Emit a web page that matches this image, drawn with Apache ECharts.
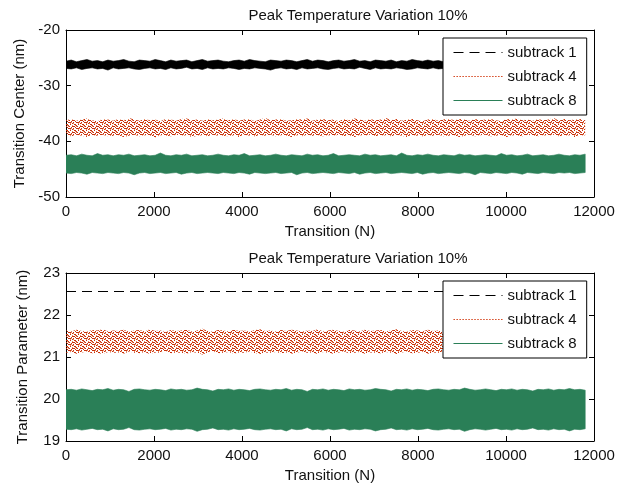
<!DOCTYPE html>
<html>
<head>
<meta charset="utf-8">
<script src="https://cdn.jsdelivr.net/npm/echarts@6/dist/echarts.min.js"></script>
<style>html,body{margin:0;padding:0;background:#fff;}#c{width:632px;height:490px;}</style>
</head>
<body>
<div id="c"></div>
<script>
// ---- data ----
const seriesNames = ['subtrack 1', 'subtrack 4', 'subtrack 8'];
const titleText = 'Peak Temperature Variation 10%';
const xLabel = 'Transition (N)';
const yLabelTop = 'Transition Center (nm)';
const yLabelBottom = 'Transition Parameter (nm)';
const xTicks = [0, 2000, 4000, 6000, 8000, 10000, 12000];
const yTicksTop = [-50, -40, -30, -20];
const yTicksBottom = [19, 20, 21, 22, 23];
const lastTransition = 11800;

// Top panel (transition center). Each dense oscillating trace is given by its upper / lower envelope.
const topSub1Upper = [
-25.6,-25.4,-25.7,-25.5,-25.3,-25.6,-25.5,-25.7,-25.4,-25.6,
-25.5,-25.3,-25.6,-25.7,-25.4,-25.5,-25.6,-25.3,-25.5,-25.7,
-25.4,-25.6,-25.5,-25.4,-25.7,-25.5,-25.3,-25.6,-25.5,-25.4,
-25.6,-25.7,-25.5,-25.4,-25.6,-25.3,-25.5,-25.6,-25.7,-25.4,
-25.5,-25.6,-25.4,-25.5,-25.7,-25.5,-25.3,-25.6,-25.4,-25.5,
-25.7,-25.5,-25.4,-25.6,-25.5,-25.3,-25.6,-25.5,-25.7,-25.4,
-25.5,-25.6,-25.4,-25.7,-25.5,-25.6,-25.3,-25.5,-25.6,-25.4,
-25.6,-25.5,-25.7,-25.4,-25.5,-25.6,-25.5,-25.3,-25.6,-25.5,
-25.4,-25.7,-25.5,-25.6,-25.4,-25.5,-25.6,-25.7,-25.5,-25.4,
-25.6,-25.5,-25.3,-25.6,-25.5,-25.7,-25.4,-25.5,-25.6,-25.5
];
const topSub1Lower = [
-26.9,-27.0,-26.8,-27.1,-26.9,-26.8,-27.0,-26.9,-27.2,-26.8,
-27.0,-26.9,-26.8,-27.0,-27.1,-26.9,-26.8,-27.0,-26.9,-27.1,
-26.8,-27.0,-26.9,-26.7,-27.0,-26.9,-27.1,-26.8,-27.0,-26.9,
-27.0,-26.8,-26.9,-27.1,-26.9,-27.0,-26.8,-26.9,-27.0,-27.2,
-26.9,-26.8,-27.0,-26.9,-27.1,-26.8,-27.0,-26.9,-26.8,-27.0,
-27.1,-26.9,-26.8,-27.0,-26.9,-27.0,-26.7,-26.9,-27.1,-26.8,
-27.0,-26.9,-27.0,-26.8,-26.9,-27.1,-27.0,-26.8,-26.9,-27.0,
-26.8,-27.0,-26.9,-27.1,-26.8,-26.9,-27.0,-26.9,-27.2,-26.8,
-27.0,-26.9,-26.8,-27.0,-26.9,-27.1,-26.8,-27.0,-26.9,-27.0,
-26.9,-26.8,-27.0,-27.1,-26.9,-26.8,-27.0,-26.9,-27.0,-26.8
];
const topSub4Upper = [
-36.2,-36.0,-36.3,-36.1,-35.9,-36.2,-36.4,-36.0,-36.1,-36.3,
-36.0,-36.2,-35.8,-36.1,-36.3,-36.0,-36.2,-36.1,-36.4,-36.0,
-36.1,-36.3,-36.0,-35.9,-36.2,-36.1,-36.3,-36.0,-36.2,-36.1,
-35.9,-36.2,-36.0,-36.3,-36.1,-36.0,-36.4,-36.1,-35.8,-36.2,
-36.1,-36.0,-36.3,-36.2,-36.0,-36.1,-35.9,-36.3,-36.1,-36.0,
-36.2,-36.1,-36.4,-36.0,-36.2,-35.9,-36.1,-36.3,-36.0,-36.2,
-36.1,-35.8,-36.2,-36.0,-36.3,-36.1,-36.0,-36.2,-36.4,-36.1,
-36.0,-36.3,-36.1,-35.9,-36.2,-36.0,-36.1,-36.3,-36.0,-36.2,
-36.1,-36.0,-36.2,-36.4,-36.0,-36.1,-35.9,-36.2,-36.1,-36.3,
-36.0,-36.2,-36.1,-35.8,-36.3,-36.0,-36.2,-36.1,-36.0,-36.2
];
const topSub4Lower = [
-38.9,-39.1,-38.8,-39.0,-39.2,-38.9,-39.0,-38.8,-39.1,-39.0,
-38.9,-39.2,-39.0,-38.8,-39.1,-38.9,-39.0,-39.3,-38.9,-39.0,
-39.1,-38.8,-39.0,-38.9,-39.2,-39.0,-38.9,-39.1,-38.8,-39.0,
-39.0,-39.1,-38.9,-39.2,-38.8,-39.0,-39.1,-38.9,-39.0,-38.8,
-39.1,-38.9,-39.0,-39.2,-38.9,-39.1,-38.8,-39.0,-38.9,-39.1,
-38.9,-39.0,-38.8,-39.1,-39.0,-39.2,-38.9,-39.0,-38.8,-39.1,
-39.0,-38.9,-39.1,-38.8,-39.0,-39.2,-38.9,-39.0,-39.1,-38.9,
-39.0,-38.8,-39.1,-39.0,-38.9,-39.2,-39.0,-38.8,-39.1,-38.9,
-38.8,-39.1,-39.0,-38.9,-39.2,-38.9,-39.0,-39.1,-38.8,-39.0,
-39.1,-38.9,-39.0,-38.8,-39.1,-39.0,-38.9,-39.2,-39.0,-38.9
];
const topSub8Upper = [
-42.5,-42.4,-42.6,-42.3,-42.5,-42.6,-42.2,-42.5,-42.4,-42.6,
-42.4,-42.5,-42.3,-42.6,-42.5,-42.4,-42.6,-42.5,-42.1,-42.5,
-42.6,-42.4,-42.5,-42.3,-42.6,-42.5,-42.4,-42.6,-42.5,-42.3,
-42.5,-42.6,-42.4,-42.5,-42.2,-42.6,-42.5,-42.4,-42.6,-42.5,
-42.3,-42.5,-42.6,-42.4,-42.5,-42.6,-42.3,-42.5,-42.4,-42.6,
-42.5,-42.2,-42.6,-42.5,-42.4,-42.5,-42.6,-42.3,-42.5,-42.4,
-42.6,-42.5,-42.4,-42.6,-42.1,-42.5,-42.6,-42.4,-42.5,-42.3,
-42.5,-42.6,-42.4,-42.5,-42.6,-42.3,-42.5,-42.4,-42.6,-42.5,
-42.4,-42.5,-42.6,-42.2,-42.5,-42.4,-42.6,-42.5,-42.3,-42.6,
-42.5,-42.4,-42.6,-42.5,-42.3,-42.5,-42.6,-42.4,-42.5,-42.3
];
const topSub8Lower = [
-45.7,-45.8,-45.6,-45.7,-45.9,-45.6,-45.7,-45.8,-45.6,-45.7,
-45.8,-45.6,-45.7,-46.0,-45.7,-45.6,-45.8,-45.7,-45.6,-45.8,
-45.7,-45.6,-45.9,-45.7,-45.6,-45.8,-45.7,-45.6,-45.7,-45.8,
-45.6,-45.7,-45.8,-45.6,-45.7,-45.9,-45.6,-45.7,-45.8,-45.7,
-45.6,-45.8,-45.7,-45.6,-46.0,-45.7,-45.6,-45.8,-45.7,-45.6,
-45.7,-45.8,-45.6,-45.7,-45.8,-45.6,-45.9,-45.7,-45.6,-45.8,
-45.7,-45.6,-45.8,-45.7,-45.6,-45.7,-45.8,-45.6,-45.9,-45.7,
-45.6,-45.8,-45.7,-45.6,-45.7,-45.8,-45.6,-45.7,-46.0,-45.6,
-45.7,-45.8,-45.6,-45.7,-45.8,-45.6,-45.7,-45.9,-45.6,-45.7,
-45.8,-45.6,-45.7,-45.8,-45.6,-45.7,-45.6,-45.8,-45.7,-45.6
];

// Bottom panel (transition parameter)
const botSub1 = [22.56, 22.56];
const botSub4Upper = [
21.63,21.61,21.65,21.62,21.60,21.64,21.63,21.66,21.61,21.63,
21.62,21.65,21.60,21.63,21.64,21.61,21.66,21.62,21.63,21.59,
21.64,21.62,21.63,21.65,21.61,21.63,21.67,21.62,21.60,21.64,
21.63,21.61,21.65,21.62,21.63,21.60,21.64,21.66,21.62,21.63,
21.61,21.64,21.62,21.65,21.63,21.60,21.63,21.62,21.66,21.61,
21.63,21.65,21.62,21.60,21.64,21.63,21.61,21.65,21.62,21.63,
21.64,21.61,21.63,21.66,21.62,21.60,21.64,21.63,21.61,21.65,
21.62,21.63,21.60,21.64,21.62,21.65,21.63,21.61,21.67,21.62,
21.63,21.60,21.64,21.62,21.65,21.61,21.63,21.64,21.62,21.60,
21.65,21.63,21.61,21.64,21.62,21.63,21.66,21.61,21.63,21.62
];
const botSub4Lower = [
21.10,21.12,21.08,21.11,21.13,21.09,21.10,21.07,21.12,21.10,
21.11,21.08,21.13,21.10,21.09,21.12,21.07,21.11,21.10,21.14,
21.09,21.11,21.10,21.08,21.12,21.10,21.06,21.11,21.13,21.09,
21.10,21.12,21.08,21.11,21.10,21.13,21.09,21.07,21.11,21.10,
21.12,21.09,21.11,21.08,21.10,21.13,21.10,21.11,21.07,21.12,
21.10,21.08,21.11,21.13,21.09,21.10,21.12,21.08,21.11,21.10,
21.09,21.12,21.10,21.07,21.11,21.13,21.09,21.10,21.12,21.08,
21.11,21.10,21.13,21.09,21.11,21.08,21.10,21.12,21.06,21.11,
21.10,21.13,21.09,21.11,21.08,21.12,21.10,21.09,21.11,21.13,
21.08,21.10,21.12,21.09,21.11,21.10,21.07,21.12,21.10,21.11
];
const botSub8Upper = [
20.22,20.23,20.21,20.24,20.22,20.20,20.23,20.22,20.25,20.21,
20.23,20.22,20.18,20.23,20.24,20.22,20.21,20.23,20.22,20.20,
20.24,20.22,20.23,20.21,20.22,20.26,20.23,20.22,20.19,20.23,
20.22,20.24,20.21,20.23,20.22,20.20,20.23,20.24,20.22,20.21,
20.23,20.22,20.25,20.21,20.23,20.22,20.18,20.23,20.22,20.24,
20.21,20.23,20.22,20.20,20.24,20.22,20.23,20.21,20.22,20.25,
20.23,20.22,20.19,20.23,20.22,20.24,20.21,20.23,20.22,20.20,
20.23,20.24,20.22,20.21,20.23,20.22,20.26,20.23,20.21,20.22,
20.24,20.22,20.20,20.23,20.22,20.24,20.21,20.23,20.22,20.19,
20.23,20.22,20.24,20.21,20.23,20.22,20.25,20.22,20.23,20.21
];
const botSub8Lower = [
19.28,19.27,19.29,19.26,19.28,19.30,19.27,19.28,19.24,19.29,
19.27,19.28,19.32,19.27,19.26,19.28,19.29,19.27,19.28,19.30,
19.26,19.28,19.27,19.29,19.28,19.23,19.27,19.28,19.31,19.27,
19.28,19.26,19.29,19.27,19.28,19.30,19.27,19.26,19.28,19.29,
19.27,19.28,19.24,19.29,19.27,19.28,19.32,19.27,19.28,19.26,
19.29,19.27,19.28,19.30,19.26,19.28,19.27,19.29,19.28,19.24,
19.27,19.28,19.31,19.27,19.28,19.26,19.29,19.27,19.28,19.30,
19.27,19.26,19.28,19.29,19.27,19.28,19.23,19.27,19.29,19.28,
19.26,19.28,19.30,19.27,19.28,19.26,19.29,19.27,19.28,19.31,
19.27,19.28,19.26,19.29,19.27,19.28,19.24,19.28,19.27,19.29
];

// ---- chart ----
const FONT = 'Liberation Sans, Arial, sans-serif';
const FS = 15;
const TXT = '#111';
const COLORS = ['#000000', '#d2380e', '#2a7f57'];

// dotted texture for the densely over-plotted dotted trace
function dottedTexture() {
  const c = document.createElement('canvas');
  c.width = 8; c.height = 6;
  const g = c.getContext('2d');
  g.fillStyle = '#c9300c';
  [[0,0,3,1],[5,0,1,1],[3,1,1,1],[7,1,1,1],[1,2,1,1],[4,2,3,1],[0,3,1,1],[2,4,2,1],[6,4,1,1],[4,5,1,1]]
    .forEach(r => g.fillRect(r[0], r[1], r[2], r[3]));
  g.fillStyle = '#e98a62';
  [[4,0,1,1],[1,3,1,1],[6,3,1,1],[0,5,1,1],[3,5,1,1],[7,2,1,1]]
    .forEach(r => g.fillRect(r[0], r[1], r[2], r[3]));
  return { image: c, repeat: 'repeat' };
}
const FILLS = [COLORS[0], dottedTexture(), COLORS[2]];

// samples are evenly spaced transition indices from 0 to the last transition
function xAt(i, n) { return i * lastTransition / (n - 1); }
function toPairs(ys) { return ys.map((y, i) => [xAt(i, ys.length), y]); }
function toBand(upper, lower) { return upper.map((u, i) => [xAt(i, upper.length), u, lower[i]]); }

const grids = [
  { left: 66, top: 30, width: 528, height: 167 },
  { left: 66, top: 273, width: 528, height: 168 }
];

const labelFmt = v => String(v);

function xAxes(gi) {
  const base = {
    gridIndex: gi, type: 'value', min: xTicks[0], max: xTicks[xTicks.length - 1],
    interval: xTicks[1] - xTicks[0],
    axisLine: { show: true, onZero: false, lineStyle: { color: '#000', width: 1 } },
    axisTick: { show: true, inside: true, length: 5, lineStyle: { color: '#000' } },
    splitLine: { show: false }
  };
  return [
    Object.assign({}, base, {
      position: 'bottom',
      axisLabel: { show: true, margin: 7, color: TXT, fontFamily: FONT, fontSize: FS, formatter: labelFmt },
      name: xLabel, nameLocation: 'middle', nameGap: 27,
      nameTextStyle: { color: TXT, fontFamily: FONT, fontSize: FS }
    }),
    Object.assign({}, base, { position: 'top', axisLabel: { show: false } })
  ];
}
function yAxes(gi, ticks, name) {
  const base = {
    gridIndex: gi, type: 'value', min: ticks[0], max: ticks[ticks.length - 1],
    interval: ticks[1] - ticks[0],
    axisLine: { show: true, onZero: false, lineStyle: { color: '#000', width: 1 } },
    axisTick: { show: true, inside: true, length: 5, lineStyle: { color: '#000' } },
    splitLine: { show: false }
  };
  return [
    Object.assign({}, base, {
      position: 'left',
      axisLabel: { show: true, margin: 6, color: TXT, fontFamily: FONT, fontSize: FS, formatter: labelFmt },
      name: name, nameLocation: 'middle', nameGap: 36,
      nameTextStyle: { color: TXT, fontFamily: FONT, fontSize: FS }
    }),
    Object.assign({}, base, { position: 'right', axisLabel: { show: false } })
  ];
}

function lineSeries(si, ys, xi, yi) {
  return {
    name: seriesNames[si], type: 'line', xAxisIndex: xi, yAxisIndex: yi,
    data: toPairs(ys), symbol: 'none', showSymbol: false,
    lineStyle: { color: COLORS[si], type: [10, 6], width: 1.2 },
    itemStyle: { color: COLORS[si] },
    silent: true, animation: false, z: 2
  };
}
// a dense oscillating trace, drawn as the filled region between its envelopes
function bandSeries(si, upper, lower, xi, yi) {
  const fill = FILLS[si];
  const edge = si === 1 ? null : COLORS[si];
  return {
    name: seriesNames[si], type: 'custom', xAxisIndex: xi, yAxisIndex: yi,
    data: toBand(upper, lower), clip: true, silent: true, animation: false, z: 2,
    itemStyle: { color: COLORS[si] },
    encode: { x: 0, y: [1, 2] },
    renderItem: function (params, api) {
      if (params.dataIndexInside !== 0) return null;
      const n = params.dataInsideLength;
      const pts = [];
      for (let j = 0; j < n; j++) pts.push(api.coord([api.value(0, j), api.value(1, j)]));
      for (let j = n - 1; j >= 0; j--) pts.push(api.coord([api.value(0, j), api.value(2, j)]));
      return { type: 'polygon', shape: { points: pts },
               style: edge ? { fill: fill, stroke: edge, lineWidth: 0.6 } : { fill: fill } };
    }
  };
}

// legend samples
const solidIcon = 'path://M0,0L0,14M0,6.5L49,6.5L49,7.5L0,7.5Z';
let dotted = 'path://M0,0L0,14';
for (let k = 0; k < 17; k++) dotted += 'M' + (k * 3) + ',6.5h1.4v1h-1.4z';
function legend(top) {
  return {
    data: [
      { name: seriesNames[0], itemStyle: { opacity: 0 } },
      { name: seriesNames[1], icon: dotted, itemStyle: { opacity: 1 } },
      { name: seriesNames[2], icon: solidIcon, itemStyle: { opacity: 1 } }
    ],
    orient: 'vertical', left: 443, top: top,
    itemWidth: 49, itemHeight: 14, itemGap: 9,
    padding: [7, 10, 7, 10],
    backgroundColor: '#fff', borderColor: '#000', borderWidth: 1,
    lineStyle: { width: 1 },
    textStyle: { color: TXT, fontFamily: FONT, fontSize: FS },
    selectedMode: false
  };
}

const option = {
  backgroundColor: '#fff',
  animation: false,
  title: [
    { text: titleText, left: 353, top: 3, textAlign: 'center',
      textStyle: { color: TXT, fontFamily: FONT, fontSize: FS, fontWeight: 'normal' } },
    { text: titleText, left: 353, top: 246, textAlign: 'center',
      textStyle: { color: TXT, fontFamily: FONT, fontSize: FS, fontWeight: 'normal' } }
  ],
  grid: grids,
  xAxis: xAxes(0).concat(xAxes(1)),
  yAxis: yAxes(0, yTicksTop, yLabelTop).concat(yAxes(1, yTicksBottom, yLabelBottom)),
  legend: [legend(38), legend(281)],
  series: [
    // the dashed line series comes first so the legend takes its dashed sample
    lineSeries(0, botSub1, 2, 2),
    bandSeries(0, topSub1Upper, topSub1Lower, 0, 0),
    bandSeries(1, topSub4Upper, topSub4Lower, 0, 0),
    bandSeries(2, topSub8Upper, topSub8Lower, 0, 0),
    bandSeries(1, botSub4Upper, botSub4Lower, 2, 2),
    bandSeries(2, botSub8Upper, botSub8Lower, 2, 2)
  ]
};

const chart = echarts.init(document.getElementById('c'), null, { renderer: 'canvas' });
chart.setOption(option);
</script>
</body>
</html>
